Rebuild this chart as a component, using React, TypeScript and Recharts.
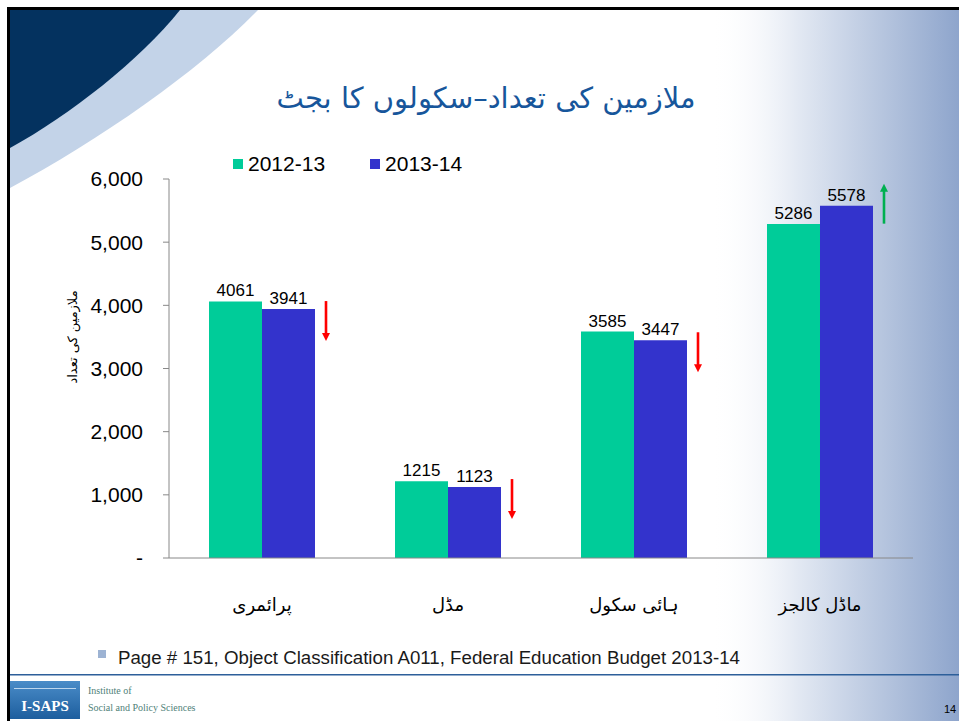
import React from "react";
import { BarChart, Bar, XAxis, YAxis, Legend, LabelList } from "recharts";

const categories = ["پرائمری", "مڈل", "ہائی سکول", "ماڈل کالجز"];
const series2012 = [4061, 1215, 3585, 5286];
const series2013 = [3941, 1123, 3447, 5578];
const seriesNames = ["2012-13", "2013-14"];
const yTicks = [0, 1000, 2000, 3000, 4000, 5000, 6000];
const title = "ملازمین کی تعداد–سکولوں کا بجٹ";
const yAxisTitle = "ملازمین کی تعداد";
const sourceNote = "Page # 151, Object Classification A011, Federal Education Budget 2013-14";
const pageNumber = "14";

const data = categories.map((c, i) => ({ name: c, a: series2012[i], b: series2013[i] }));

const GREEN = "#00cc99";
const BLUE = "#3333cc";
const LATIN = "'Liberation Sans', Arial, sans-serif";
const URDU = "'DejaVu Sans', sans-serif";

const ChangeArrow = (props: any) => {
  const { x, y, width, index } = props;
  const up = series2013[index] > series2012[index];
  const ax = x + width + 11;
  const color = up ? "#00b050" : "#ff0000";
  if (up) {
    const top = y - 22;
    const bottom = y + 18;
    return (
      <g>
        <rect x={ax - 1.3} y={top + 7} width={2.6} height={bottom - top - 7} fill={color} />
        <polygon points={`${ax - 4},${top + 8} ${ax + 4},${top + 8} ${ax},${top}`} fill={color} />
      </g>
    );
  }
  const top = y - 8;
  const bottom = y + 32;
  return (
    <g>
      <rect x={ax - 1.3} y={top} width={2.6} height={bottom - top - 7} fill={color} />
      <polygon points={`${ax - 4},${bottom - 8} ${ax + 4},${bottom - 8} ${ax},${bottom}`} fill={color} />
    </g>
  );
};

const LegendContent = (props: any) => {
  const { payload } = props;
  return (
    <div style={{ display: "flex", alignItems: "center", fontFamily: LATIN, fontSize: 21, lineHeight: "23px", color: "#000" }}>
      {(payload || []).map((p: any, i: number) => (
        <div key={i} style={{ display: "flex", alignItems: "center", marginRight: 45 }}>
          <span style={{ display: "inline-block", width: 10, height: 10, background: p.color, marginRight: 5 }} />
          <span>{p.value}</span>
        </div>
      ))}
    </div>
  );
};

const YTitle = (props: any) => (
  <text
    x={72}
    y={337}
    transform="rotate(-90 72 337)"
    textAnchor="middle"
    dominantBaseline="central"
    fontFamily={URDU}
    fontSize={13}
    fill="#000"
  >
    {yAxisTitle}
  </text>
);

export default function App() {
  return (
    <div style={{ position: "absolute", left: 0, top: 0, width: 959, height: 721, background: "#fff", overflow: "hidden" }}>
      <svg width={959} height={721} style={{ position: "absolute", left: 0, top: 0 }}>
        <defs>
          <linearGradient id="rightGrad" x1="710" y1="0" x2="959" y2="0" gradientUnits="userSpaceOnUse">
            <stop offset="0" stopColor="#ffffff" stopOpacity={0} />
            <stop offset="0.35" stopColor="#e3e9f3" stopOpacity={1} />
            <stop offset="1" stopColor="#8ea5cc" stopOpacity={1} />
          </linearGradient>
          <linearGradient id="logoGrad" x1="0" y1="0" x2="0" y2="1">
            <stop offset="0" stopColor="#4a8cc8" />
            <stop offset="1" stopColor="#1d5e9e" />
          </linearGradient>
        </defs>
        <rect x={10} y={10} width={949} height={711} fill="url(#rightGrad)" />
        <path d="M10,10 L258,10 C200,70 100,140 10,188 Z" fill="#c3d3e8" />
        <path d="M10,10 L180,10 C140,60 70,115 10,148 Z" fill="#04325f" />
        <rect x={7} y={7} width={952} height={3} fill="#000" />
        <rect x={7} y={7} width={3} height={714} fill="#000" />
        <text x={486} y={108} textAnchor="middle" fontFamily={URDU} fontSize={29} fill="#17569b">
          {title}
        </text>
        <rect x={98} y={650} width={8} height={8} fill="#9db3d3" />
        <text x={118} y={664} fontFamily={LATIN} fontSize={18.7} fill="#1a1a1a">
          {sourceNote}
        </text>
        <rect x={10} y={674} width={949} height={1.5} fill="#2d5f9a" />
        <rect x={10} y={681} width={70} height={38} fill="url(#logoGrad)" />
        <rect x={14} y={688} width={62} height={1} fill="#bcd6ee" />
        <text x={45} y={711} textAnchor="middle" fontFamily="'Liberation Serif', serif" fontWeight="bold" fontSize={15} fill="#fff">
          I-SAPS
        </text>
        <text x={88} y={694} fontFamily="'Liberation Serif', serif" fontSize={10} fill="#4f7f79">
          Institute of
        </text>
        <text x={88} y={711} fontFamily="'Liberation Serif', serif" fontSize={10} fill="#4f7f79">
          Social and Policy Sciences
        </text>
        <text x={944} y={713} fontFamily={LATIN} fontSize={11} fill="#000">
          {pageNumber}
        </text>
      </svg>
      <div style={{ position: "absolute", left: 0, top: 0 }}>
        <BarChart
          width={959}
          height={721}
          data={data}
          margin={{ top: 156, right: 46, bottom: 133, left: 0 }}
          barCategoryGap={40}
          barGap={0}
        >
          <Legend
            verticalAlign="top"
            align="left"
            height={23}
            content={<LegendContent />}
            wrapperStyle={{ top: 152, left: 233, width: "auto" }}
          />
          <XAxis
            dataKey="name"
            height={30}
            tickLine={false}
            axisLine={{ stroke: "#888" }}
            tickSize={6}
            tickMargin={34}
            tick={{ fontFamily: URDU, fontSize: 18, fill: "#000" }}
          />
          <YAxis
            width={169}
            domain={[0, 6000]}
            ticks={yTicks}
            interval={0}
            tickSize={6}
            tickMargin={20}
            axisLine={{ stroke: "#888" }}
            tickLine={{ stroke: "#888" }}
            tick={{ fontFamily: LATIN, fontSize: 21, fill: "#000" }}
            tickFormatter={(v: number) => (v === 0 ? "-" : v.toLocaleString("en-US"))}
            label={<YTitle />}
          />
          <Bar dataKey="a" name={seriesNames[0]} fill={GREEN} isAnimationActive={false}>
            <LabelList dataKey="a" position="top" offset={5} style={{ fontFamily: LATIN, fontSize: 17, fill: "#000" }} />
          </Bar>
          <Bar dataKey="b" name={seriesNames[1]} fill={BLUE} isAnimationActive={false}>
            <LabelList dataKey="b" position="top" offset={5} style={{ fontFamily: LATIN, fontSize: 17, fill: "#000" }} />
            <LabelList dataKey="b" content={<ChangeArrow />} />
          </Bar>
        </BarChart>
      </div>
    </div>
  );
}
